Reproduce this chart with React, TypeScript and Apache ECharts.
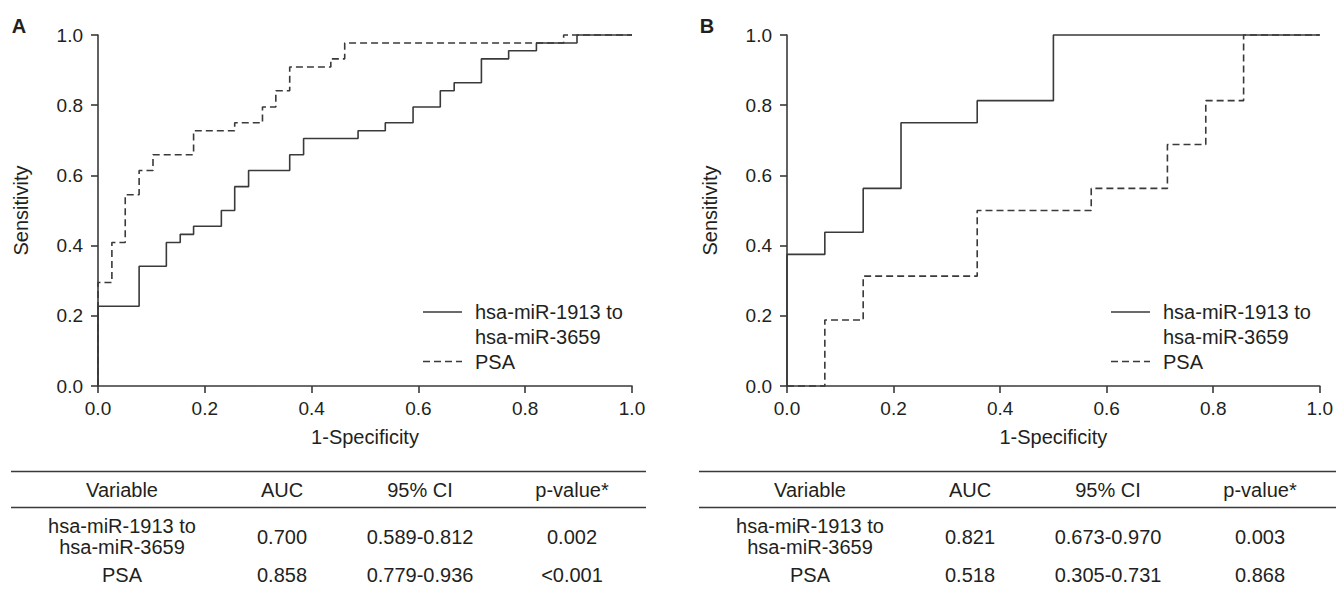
import React, { useEffect, useRef } from "react";
import * as echarts from "echarts";

const FONT = '"Liberation Sans", Arial, Helvetica, sans-serif';
const INK = "#231f20";
const LINE = "#3a3a3a";

// Legend / series names
const mirName = "hsa-miR-1913 to hsa-miR-3659";
const psaName = "PSA";
const legendMirLines = ["hsa-miR-1913 to", "hsa-miR-3659"];
const legendPsaLines = ["PSA"];

// Axis ticks
const tickValues = [0, 0.2, 0.4, 0.6, 0.8, 1.0];
const xAxisTitle = "1-Specificity";
const yAxisTitle = "Sensitivity";

// Panel A ROC step points: at each 1-specificity value the curve rises to the sensitivity
const aMirFpr = [0, 0.077, 0.128, 0.154, 0.179, 0.231, 0.256, 0.282, 0.359, 0.385, 0.487, 0.538, 0.59, 0.641, 0.667, 0.718, 0.769, 0.821, 0.897];
const aMirTpr = [0.227, 0.341, 0.409, 0.432, 0.455, 0.5, 0.568, 0.614, 0.659, 0.705, 0.727, 0.75, 0.795, 0.841, 0.864, 0.932, 0.955, 0.977, 1.0];
const aPsaFpr = [0, 0.026, 0.051, 0.077, 0.103, 0.179, 0.256, 0.308, 0.333, 0.359, 0.436, 0.462, 0.872];
const aPsaTpr = [0.295, 0.409, 0.545, 0.614, 0.659, 0.727, 0.75, 0.795, 0.841, 0.909, 0.932, 0.977, 1.0];

// Panel B
const bMirFpr = [0, 0.071, 0.143, 0.214, 0.357, 0.5];
const bMirTpr = [0.375, 0.438, 0.563, 0.75, 0.813, 1.0];
const bPsaFpr = [0.071, 0.143, 0.357, 0.571, 0.714, 0.786, 0.857];
const bPsaTpr = [0.188, 0.313, 0.5, 0.563, 0.688, 0.813, 1.0];

// Tables
const tableHeader = ["Variable", "AUC", "95% CI", "p-value*"];
const tableVarMir = ["hsa-miR-1913 to", "hsa-miR-3659"];
const tableVarPsa = "PSA";
const tableAMir = ["0.700", "0.589-0.812", "0.002"];
const tableAPsa = ["0.858", "0.779-0.936", "<0.001"];
const tableBMir = ["0.821", "0.673-0.970", "0.003"];
const tableBPsa = ["0.518", "0.305-0.731", "0.868"];

function stepPoints(fpr: number[], tpr: number[]) {
  const pts: number[][] = [[0, 0]];
  let prev = 0;
  for (let i = 0; i < fpr.length; i++) {
    pts.push([fpr[i], prev]);
    pts.push([fpr[i], tpr[i]]);
    prev = tpr[i];
  }
  pts.push([1, prev]);
  return pts;
}

function txt(text: string, x: number, y: number, size: number, align = "center", weight = "normal") {
  return {
    type: "text",
    x,
    y,
    silent: true,
    style: {
      text,
      x: 0,
      y: 0,
      fill: INK,
      font: `${weight} ${size}px ${FONT}`,
      align,
      verticalAlign: "middle",
      textAlign: align,
      textVerticalAlign: "middle",
    },
  };
}

function hline(x1: number, x2: number, y: number, w = 1.6) {
  return {
    type: "line",
    silent: true,
    shape: { x1, y1: y, x2, y2: y },
    style: { stroke: LINE, lineWidth: w },
  };
}

function panelGraphics(dx: number, label: string, mirVals: string[], psaVals: string[], tableRight: number) {
  const els: any[] = [];
  els.push(txt(label, 19 + dx, 26, 20, "center", "bold"));
  // legend
  els.push({
    type: "line",
    silent: true,
    shape: { x1: 423 + dx, y1: 312, x2: 462 + dx, y2: 312 },
    style: { stroke: LINE, lineWidth: 1.5 },
  });
  els.push({
    type: "line",
    silent: true,
    shape: { x1: 423 + dx, y1: 361.5, x2: 462 + dx, y2: 361.5 },
    style: { stroke: LINE, lineWidth: 1.5, lineDash: [7, 4] },
  });
  els.push(txt(legendMirLines[0], 475 + dx, 312, 20, "left"));
  els.push(txt(legendMirLines[1], 475 + dx, 337, 20, "left"));
  els.push(txt(legendPsaLines[0], 475 + dx, 362, 20, "left"));
  // table
  const cols = [122 + dx, 282 + dx, 420 + dx, 572 + dx];
  els.push(hline(11 + dx, tableRight, 471.5));
  els.push(hline(11 + dx, tableRight, 507.5));
  tableHeader.forEach((h, i) => els.push(txt(h, cols[i], 490, 20)));
  els.push(txt(tableVarMir[0], cols[0], 526, 20));
  els.push(txt(tableVarMir[1], cols[0], 547, 20));
  mirVals.forEach((v, i) => els.push(txt(v, cols[i + 1], 537, 20)));
  els.push(txt(tableVarPsa, cols[0], 575, 20));
  psaVals.forEach((v, i) => els.push(txt(v, cols[i + 1], 575, 20)));
  return els;
}

function makeAxis(gridIndex: number, isX: boolean) {
  return {
    type: "value",
    gridIndex,
    min: 0,
    max: 1,
    interval: 0.2,
    name: isX ? xAxisTitle : yAxisTitle,
    nameLocation: "middle",
    nameGap: isX ? 41 : 67,
    nameTextStyle: { fontFamily: FONT, fontSize: 20, color: INK },
    axisLine: { show: true, onZero: false, lineStyle: { color: LINE, width: 1.6 } },
    axisTick: { show: true, inside: false, length: 7, lineStyle: { color: LINE, width: 1.6 } },
    axisLabel: {
      fontFamily: FONT,
      fontSize: 19,
      color: INK,
      margin: isX ? 13 : 15,
      formatter: (v: number) => (tickValues.includes(Math.round(v * 10) / 10) ? v.toFixed(1) : ""),
    },
    splitLine: { show: false },
  };
}

function curve(name: string, pts: number[][], idx: number, dashed: boolean) {
  return {
    type: "line",
    name,
    xAxisIndex: idx,
    yAxisIndex: idx,
    data: pts,
    symbol: "none",
    clip: false,
    silent: true,
    lineStyle: { color: LINE, width: 1.6, type: dashed ? [7, 4] : "solid" },
  };
}

export default function App() {
  const ref = useRef<HTMLDivElement>(null);
  useEffect(() => {
    if (!ref.current) return;
    const chart = echarts.init(ref.current, undefined, { renderer: "svg" });
    chart.setOption({
      animation: false,
      backgroundColor: "#ffffff",
      textStyle: { fontFamily: FONT },
      grid: [
        { left: 98, top: 35, width: 534, height: 351 },
        { left: 787, top: 35, width: 533, height: 351 },
      ],
      xAxis: [makeAxis(0, true), makeAxis(1, true)],
      yAxis: [makeAxis(0, false), makeAxis(1, false)],
      series: [
        curve(mirName, stepPoints(aMirFpr, aMirTpr), 0, false),
        curve(psaName, stepPoints(aPsaFpr, aPsaTpr), 0, true),
        curve(mirName, stepPoints(bMirFpr, bMirTpr), 1, false),
        curve(psaName, stepPoints(bPsaFpr, bPsaTpr), 1, true),
      ],
      graphic: [
        ...panelGraphics(0, "A", tableAMir, tableAPsa, 646),
        ...panelGraphics(688, "B", tableBMir, tableBPsa, 1336),
      ],
    });
    return () => chart.dispose();
  }, []);
  return (
    <div
      ref={ref}
      style={{ position: "absolute", left: 0, top: 0, width: 1336, height: 596, background: "#fff" }}
    />
  );
}
